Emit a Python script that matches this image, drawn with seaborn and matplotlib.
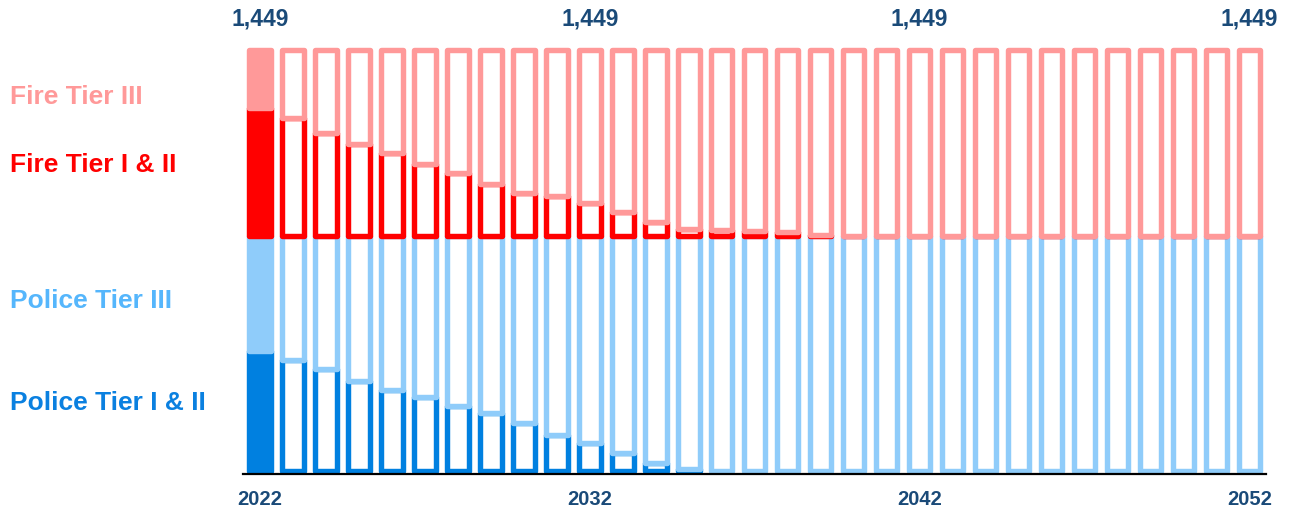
import numpy as np
import pandas as pd
import matplotlib
matplotlib.use("Agg")
import matplotlib.pyplot as plt
import matplotlib.transforms as mtransforms
import seaborn as sns

# Projected members by tier, 2022-2052
years = [str(y) for y in range(2022, 2053)]
police_tier12 = [411, 382, 350, 308, 277, 252, 223, 197, 163, 121, 96, 62, 25, 4] + [0] * 17
police_tier3 = [397, 426, 458, 500, 531, 556, 585, 611, 645, 687, 712, 746, 783, 804] + [808] * 17
fire_tier12 = [442, 406, 356, 316, 285, 248, 216, 180, 147, 136, 115, 81, 47, 23, 20, 18, 14, 3] + [0] * 13
fire_tier3 = [199, 235, 285, 325, 356, 393, 425, 461, 494, 505, 526, 560, 594, 618, 621, 623, 627, 638] + [641] * 13

series_names = ["Police Tier I & II", "Police Tier III", "Fire Tier I & II", "Fire Tier III"]
series_values = [police_tier12, police_tier3, fire_tier12, fire_tier3]
bar_colors = ["#0080E0", "#8FCCFA", "#FF0000", "#FF9999"]
text_colors = ["#0A80E0", "#55B6FC", "#FF0000", "#FF9999"]
label_years = ["2022", "2032", "2042", "2052"]
navy = "#1A4A78"

sns.set_theme(style="white")
plt.rcParams["font.family"] = ["Liberation Sans", "DejaVu Sans"]

fig = plt.figure(figsize=(12.92, 5.11), dpi=100)
ax = fig.add_axes([243.3 / 1292, 37 / 511, (1266 - 243.3) / 1292, 434 / 511])

n = len(years)
bottom = np.zeros(n)
for name, vals, col in zip(series_names, series_values, bar_colors):
    vals = np.asarray(vals, dtype=float)
    before = len(ax.patches)
    sns.barplot(x=years, y=vals, bottom=bottom, width=0.657, color="white",
                facecolor="white", edgecolor=col, linewidth=3.9, errorbar=None,
                ax=ax, joinstyle="round")
    new = ax.patches[before:]
    # the first year is shown as solid blocks
    new[0].set_facecolor(col)
    bottom = bottom + vals

totals = bottom
ax.set_xlim(-0.5, 30.5)
ax.set_ylim(-12, 1483)
ax.set_xticks([])
ax.set_yticks([])
ax.set_xlabel("")
ax.set_ylabel("")
for s in ["left", "right", "top"]:
    ax.spines[s].set_visible(False)
ax.spines["bottom"].set_color("black")
ax.spines["bottom"].set_linewidth(1.6)
ax.spines["bottom"].set_zorder(5)

trans = mtransforms.blended_transform_factory(ax.transData, fig.transFigure)
for yr in label_years:
    i = years.index(yr)
    ax.text(i, 1 - 19 / 511, f"{int(round(totals[i])):,}", transform=trans,
            ha="center", va="center", fontsize=16.5, fontweight="bold", color=navy)
    ax.text(i, 1 - 499.5 / 511, yr, transform=trans,
            ha="center", va="center", fontsize=14.5, fontweight="bold", color=navy)

label_y = {"Fire Tier III": 97, "Fire Tier I & II": 165,
           "Police Tier III": 301, "Police Tier I & II": 403}
for name, col in zip(series_names, text_colors):
    fig.text(10 / 1292, 1 - label_y[name] / 511, name, ha="left", va="center",
             fontsize=19, fontweight="bold", color=col)

fig.savefig("out.png", dpi=100, facecolor="white")
